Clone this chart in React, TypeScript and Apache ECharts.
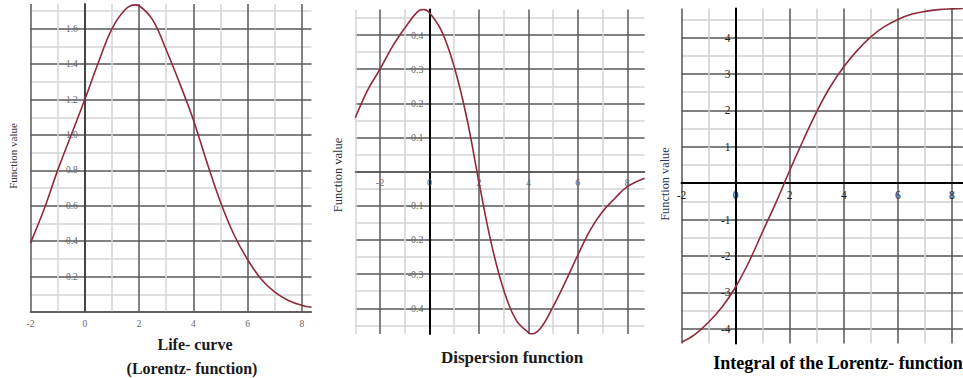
import React, { useEffect, useRef } from 'react';
import * as echarts from 'echarts';

// ---- Data ----
const lifeX = [-2, -1.5, -1, -0.5, 0, 0.5, 1, 1.5, 1.85, 2, 2.5, 3, 3.5, 4, 4.5, 5, 5.5, 6, 6.5, 7, 7.5, 8, 8.35];
const lifeY = [0.39, 0.58, 0.8, 1.0, 1.2, 1.41, 1.6, 1.71, 1.735, 1.73, 1.65, 1.48, 1.29, 1.085, 0.845, 0.62, 0.435, 0.295, 0.185, 0.112, 0.065, 0.037, 0.027];

const dispX = [-3, -2.5, -2, -1.5, -1, -0.5, -0.25, 0, 0.5, 1, 1.5, 2, 2.5, 3, 3.5, 4, 4.15, 4.5, 5, 5.5, 6, 6.5, 7, 7.5, 8, 8.7];
const dispY = [0.158, 0.239, 0.3, 0.366, 0.42, 0.467, 0.475, 0.465, 0.41, 0.307, 0.16, -0.03, -0.21, -0.346, -0.434, -0.471, -0.475, -0.458, -0.395, -0.322, -0.244, -0.171, -0.117, -0.078, -0.044, -0.019];

const intX = [-2, -1.5, -1, -0.5, 0, 0.5, 1, 1.5, 2, 2.5, 3, 3.5, 4, 4.5, 5, 5.5, 6, 6.5, 7, 7.5, 8, 8.4];
const intY = [-4.37, -4.15, -3.82, -3.4, -2.85, -2.15, -1.33, -0.52, 0.35, 1.18, 1.97, 2.65, 3.2, 3.65, 4.02, 4.3, 4.5, 4.64, 4.72, 4.77, 4.79, 4.8];

const lifeXTicks = ['-2', '0', '2', '4', '6', '8'];
const lifeYTicks = ['0.2', '0.4', '0.6', '0.8', '1.0', '1.2', '1.4', '1.6'];
const dispXTicks = ['-2', '0', '2', '4', '6', '8'];
const dispYTicks = ['-0.4', '-0.3', '-0.2', '-0.1', '0.1', '0.2', '0.3', '0.4'];
const intXTicks = ['-2', '0', '2', '4', '6', '8'];
const intYTicks = ['-4', '-3', '-2', '-1', '1', '2', '3', '4'];

const titles = {
  life1: 'Life- curve',
  life2: '(Lorentz- function)',
  disp: 'Dispersion function',
  integral: 'Integral of the Lorentz- function',
  yName: 'Function value',
};

const SERIF = '"Liberation Serif", "DejaVu Serif", serif';
const CURVE = '#8e2b3b';
const DARK = '#585858';
const LIGHT = '#d4d4d4';
const T = 'rgba(0,0,0,0)';

const pick = (ticks: string[]) => (v: number) => {
  const t = ticks.find((s) => Math.abs(parseFloat(s) - v) < 1e-6);
  return t ?? '';
};

const zip = (xs: number[], ys: number[]) => xs.map((x, i) => [x, ys[i]]);

// grid geometry (pixels)
const G = [
  { left: 30.5, top: 4, width: 281, height: 308, xmin: -2, xmax: 8.35, ymin: 0, ymax: 1.74 },
  { left: 355.3, top: 9.4, width: 289.3, height: 324.5, xmin: -3, xmax: 8.7, ymin: -0.475, ymax: 0.475 },
  { left: 681.5, top: 8.5, width: 281.3, height: 334.9, xmin: -2, xmax: 8.4, ymin: -4.4, ymax: 4.8 },
];
// offsets placing the axes on the zero lines
const xZeroOffset = (g: any) => -(g.height * (0 - g.ymin)) / (g.ymax - g.ymin);
const yZeroOffset = (g: any) => -(g.width * (0 - g.xmin)) / (g.xmax - g.xmin);

export default function App() {
  const ref = useRef<HTMLDivElement>(null);
  useEffect(() => {
    if (!ref.current) return;
    const chart = echarts.init(ref.current, undefined, { renderer: 'svg' });

    const baseAxis = (o: any) => ({
      type: 'value',
      axisTick: { show: false },
      minorTick: { show: false },
      ...o,
    });

    const option: any = {
      animation: false,
      backgroundColor: '#ffffff',
      grid: G.map((g) => ({ left: g.left, top: g.top, width: g.width, height: g.height, containLabel: false, outerBoundsMode: 'none' })),
      xAxis: [
        baseAxis({
          gridIndex: 0, min: G[0].xmin, max: G[0].xmax, interval: 1,
          axisLine: { onZero: false, lineStyle: { color: DARK, width: 1.5 } },
          axisLabel: { formatter: pick(lifeXTicks), fontFamily: SERIF, fontSize: 9.5, color: '#666', margin: 7 },
          splitLine: { show: true, showMaxLine: false, lineStyle: { color: [DARK, LIGHT], width: 1.5 } },
        }),
        baseAxis({
          gridIndex: 1, min: G[1].xmin, max: G[1].xmax, interval: 1, offset: xZeroOffset(G[1]),
          axisLine: { onZero: false, lineStyle: { color: '#555', width: 1.5 } },
          axisLabel: { formatter: pick(dispXTicks), fontFamily: SERIF, fontSize: 10, color: '#666', margin: 6 },
          splitLine: { show: true, showMaxLine: false, lineStyle: { color: [LIGHT, DARK], width: 1.5 } },
        }),
        baseAxis({
          gridIndex: 2, min: G[2].xmin, max: G[2].xmax, interval: 1, offset: xZeroOffset(G[2]),
          axisLine: { onZero: false, lineStyle: { color: '#000', width: 2 } },
          axisLabel: { formatter: pick(intXTicks), fontFamily: SERIF, fontSize: 11.5, color: '#222', margin: 6 },
          splitLine: { show: true, showMaxLine: false, lineStyle: { color: ['#555', '#cfcfcf'], width: 1.5 } },
        }),
      ],
      yAxis: [
        baseAxis({
          gridIndex: 0, min: G[0].ymin, max: G[0].ymax, interval: 0.1, offset: yZeroOffset(G[0]),
          axisLine: { onZero: false, lineStyle: { color: '#444', width: 2 } },
          axisLabel: { formatter: pick(lifeYTicks), fontFamily: SERIF, fontSize: 9.5, color: '#666', margin: 7 },
          splitLine: { show: true, showMaxLine: false, lineStyle: { color: [DARK, LIGHT], width: 1.5 } },
        }),
        baseAxis({
          gridIndex: 1, min: G[1].ymin, max: G[1].ymax, interval: 0.025, offset: yZeroOffset(G[1]),
          axisLine: { onZero: false, lineStyle: { color: '#000', width: 2 } },
          axisLabel: { formatter: pick(dispYTicks), fontFamily: SERIF, fontSize: 10, color: '#666', margin: 6 },
          splitLine: { show: true, showMaxLine: false, lineStyle: { color: [T, LIGHT, T, DARK], width: 1.5 } },
        }),
        baseAxis({
          gridIndex: 2, min: G[2].ymin, max: G[2].ymax, interval: 0.1, offset: yZeroOffset(G[2]),
          axisLine: { onZero: false, lineStyle: { color: '#000', width: 2 } },
          axisLabel: { formatter: pick(intYTicks), fontFamily: SERIF, fontSize: 11.5, color: '#222', margin: 5 },
          splitLine: { show: true, showMaxLine: false, lineStyle: { color: [T, T, T, T, '#555', T, T, T, T, '#cfcfcf'], width: 1.5 } },
        }),
      ],
      series: [
        { type: 'line', xAxisIndex: 0, yAxisIndex: 0, data: zip(lifeX, lifeY), smooth: 0.4, showSymbol: false, lineStyle: { color: CURVE, width: 1.6 }, silent: true },
        { type: 'line', xAxisIndex: 1, yAxisIndex: 1, data: zip(dispX, dispY), smooth: 0.4, showSymbol: false, lineStyle: { color: CURVE, width: 1.6 }, silent: true },
        { type: 'line', xAxisIndex: 2, yAxisIndex: 2, data: zip(intX, intY), smooth: 0.4, showSymbol: false, lineStyle: { color: CURVE, width: 1.6 }, silent: true },
      ],
      graphic: [
        { type: 'text', x: 13, y: 156, rotation: Math.PI / 2, style: { text: titles.yName, font: `11px ${SERIF}`, fill: '#333', textAlign: 'center', textVerticalAlign: 'middle', align: 'center', verticalAlign: 'middle' } },
        { type: 'text', x: 338, y: 175, rotation: Math.PI / 2, style: { text: titles.yName, font: `12.5px ${SERIF}`, fill: '#333', textAlign: 'center', textVerticalAlign: 'middle', align: 'center', verticalAlign: 'middle' } },
        { type: 'text', x: 665, y: 184, rotation: Math.PI / 2, style: { text: titles.yName, font: `12.3px ${SERIF}`, fill: '#1f3a5f', textAlign: 'center', textVerticalAlign: 'middle', align: 'center', verticalAlign: 'middle' } },
        { type: 'text', x: 195, y: 344, style: { text: titles.life1, font: `bold 16px ${SERIF}`, fill: '#1a1a1a', textAlign: 'center', textVerticalAlign: 'middle', align: 'center', verticalAlign: 'middle' } },
        { type: 'text', x: 192, y: 368, style: { text: titles.life2, font: `bold 16px ${SERIF}`, fill: '#1a1a1a', textAlign: 'center', textVerticalAlign: 'middle', align: 'center', verticalAlign: 'middle' } },
        { type: 'text', x: 512, y: 357, style: { text: titles.disp, font: `bold 17px ${SERIF}`, fill: '#1a1a1a', textAlign: 'center', textVerticalAlign: 'middle', align: 'center', verticalAlign: 'middle' } },
        { type: 'text', x: 838, y: 363, style: { text: titles.integral, font: `bold 18px ${SERIF}`, fill: '#000', textAlign: 'center', textVerticalAlign: 'middle', align: 'center', verticalAlign: 'middle' } },
      ],
    };
    chart.setOption(option);
    return () => chart.dispose();
  }, []);
  return <div ref={ref} style={{ position: 'absolute', left: 0, top: 0, width: 963, height: 378, background: '#fff' }} />;
}
